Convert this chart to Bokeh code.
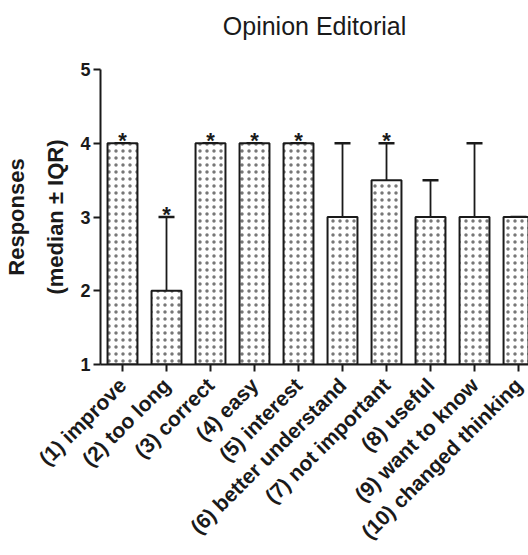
import math
from bokeh.plotting import figure
from bokeh.models import Whisker, TeeHead, ColumnDataSource, FixedTicker, Range1d, LinearAxis
from bokeh.embed import file_html
from bokeh.resources import INLINE
from bokeh.core.properties import value

categories = ["(1) improve", "(2) too long", "(3) correct", "(4) easy", "(5) interest",
              "(6) better understand", "(7) not important", "(8) useful",
              "(9) want to know", "(10) changed thinking"]
medians = [4, 2, 4, 4, 4, 3, 3.5, 3, 3, 3]
q3 = [4, 3, 4, 4, 4, 4, 4, 3.5, 4, 3]
significant = [True, True, True, True, True, False, True, False, False, False]
y_ticks = [1, 2, 3, 4, 5]
title_text = "Opinion Editorial"

xs = list(range(1, len(categories) + 1))
src = ColumnDataSource(dict(x=xs, median=medians, upper=q3))

FONT = "Liberation Sans"
INK = "#1a1a1a"

p = figure(width=528, height=555, output_backend="svg", toolbar_location=None,
           x_range=Range1d(0.5, 10.227), y_range=Range1d(1, 5),
           min_border_left=100, min_border_right=0, min_border_top=69, min_border_bottom=191)

bottom = p.below[0]
left = p.left[0]

# title drawn as the label of an empty axis above the frame
top_axis = LinearAxis(ticker=FixedTicker(ticks=[]), axis_label=title_text,
                      axis_line_color=None, major_tick_line_color=None,
                      minor_tick_line_color=None, major_tick_out=0, major_tick_in=0,
                      major_label_standoff=0,
                      axis_label_text_font=FONT, axis_label_text_font_size="25px",
                      axis_label_text_font_style="normal", axis_label_text_color=INK,
                      axis_label_standoff=30)
p.add_layout(top_axis, "above")

p.vbar(x="x", width=0.68, top="median", bottom=1, source=src,
       fill_color="white", line_color=INK, line_width=2,
       hatch_pattern="dot", hatch_scale=7, hatch_color="#777", hatch_weight=0.7)

wh = Whisker(source=src, base="x", lower="median", upper="upper",
             line_color=INK, line_width=1.8,
             upper_head=TeeHead(size=16, line_width=2.5, line_color=INK), lower_head=None)
p.add_layout(wh)

sx = [x for x, s in zip(xs, significant) if s]
sy = [u for u, s in zip(q3, significant) if s]
p.text(x=sx, y=sy, text=["*"] * len(sx), text_font=value(FONT), text_font_size="22px",
       text_font_style="bold", text_align="center", text_baseline="middle",
       y_offset=-3, text_color=INK)

p.xgrid.visible = False
p.ygrid.visible = False
p.outline_line_color = None

bottom.ticker = FixedTicker(ticks=xs)
bottom.major_label_overrides = {x: c for x, c in zip(xs, categories)}
bottom.major_label_orientation = math.pi / 4
left.ticker = FixedTicker(ticks=y_ticks)

for ax in (bottom, left):
    ax.axis_line_width = 2
    ax.axis_line_color = INK
    ax.major_tick_line_width = 2
    ax.major_tick_line_color = INK
    ax.major_tick_out = 7
    ax.major_tick_in = 0
    ax.minor_tick_line_color = None
    ax.major_label_text_font = FONT
    ax.major_label_text_font_style = "bold"
    ax.major_label_text_color = INK

bottom.major_label_text_font_size = "21px"
bottom.major_label_standoff = 10
left.major_label_text_font_size = "18px"
left.major_label_standoff = 3

left.axis_label = "(median \u00b1 IQR)"
left.axis_label_text_font = FONT
left.axis_label_text_font_size = "22px"
left.axis_label_text_font_style = "bold"
left.axis_label_text_color = INK
left.axis_label_standoff = 9

outer = LinearAxis(ticker=FixedTicker(ticks=[]), axis_label="Responses",
                   axis_line_color=None, major_tick_line_color=None,
                   minor_tick_line_color=None, major_tick_out=0, major_tick_in=0,
                   major_label_standoff=0,
                   axis_label_text_font=FONT, axis_label_text_font_size="22px",
                   axis_label_text_font_style="bold", axis_label_text_color=INK,
                   axis_label_standoff=12)
p.add_layout(outer, "left")

open("out.html", "w").write(file_html(p, INLINE))
